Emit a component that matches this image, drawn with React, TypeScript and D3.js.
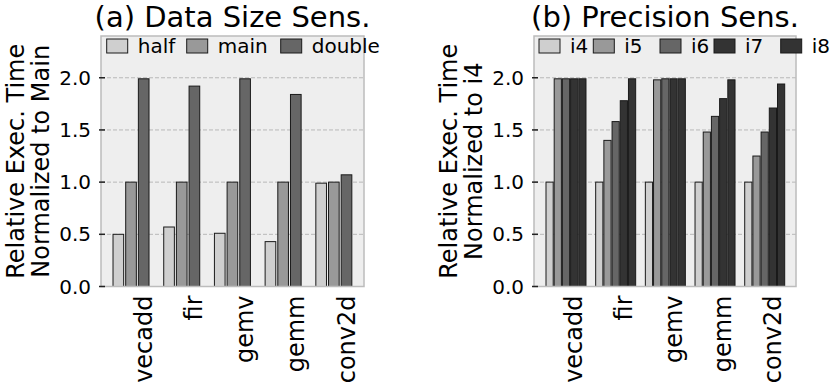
import React from 'react';
import * as d3 from 'd3';

// benchmark names shared by both panels
const categories = ['vecadd', 'fir', 'gemv', 'gemm', 'conv2d'];

// (a) data size sensitivity, normalized to main
const sizeSeries = ['half', 'main', 'double'];
const halfVals = [0.50, 0.57, 0.51, 0.43, 0.99];
const mainVals = [1.0, 1.0, 1.0, 1.0, 1.0];
const doubleVals = [1.99, 1.92, 1.99, 1.84, 1.07];

// (b) precision sensitivity, normalized to i4
const precSeries = ['i4', 'i5', 'i6', 'i7', 'i8'];
const i4Vals = [1.0, 1.0, 1.0, 1.0, 1.0];
const i5Vals = [1.99, 1.40, 1.98, 1.48, 1.25];
const i6Vals = [1.99, 1.58, 1.99, 1.63, 1.48];
const i7Vals = [1.99, 1.78, 1.99, 1.80, 1.71];
const i8Vals = [1.99, 1.99, 1.99, 1.98, 1.94];

const yTicks = [0.0, 0.5, 1.0, 1.5, 2.0];

const FONT = 'DejaVu Sans, sans-serif';

type PanelProps = {
  title: string;
  ylabel2: string;
  series: string[];
  values: number[][];
  colors: string[];
  x0: number;
  x1: number;
  xDomain: [number, number];
  barStep: number;
  barWidth: number;
  legendOffsets: number[];
};

const Panel = ({ title, ylabel2, series, values, colors, x0, x1, xDomain, barStep, barWidth, legendOffsets }: PanelProps) => {
  const top = 36;
  const bottom = 286.5;

  const x = d3.scaleLinear().domain(xDomain).range([x0, x1]);
  const y = d3.scaleLinear().domain([0, 2.4]).range([bottom, top]);
  const unit = x(1) - x(0);
  const midY = (top + bottom) / 2;

  return (
    <g>
      {/* title */}
      <text x={(x0 + x1) / 2} y={26.7} textAnchor="middle" fontSize={29} fontFamily={FONT} fill="#000">
        {title}
      </text>

      {/* axes background */}
      <rect x={x0} y={top} width={x1 - x0} height={bottom - top} fill="#eeeeee" />

      {/* grid lines */}
      {yTicks.filter(t => t > 0).map(t => (
        <line key={t} x1={x0} x2={x1} y1={y(t)} y2={y(t)} stroke="#b8b8b8" strokeWidth={1} strokeDasharray="4,2" />
      ))}

      {/* bars */}
      {values.map((vals, si) =>
        vals.map((v, ci) => {
          const cx = x(ci + si * barStep);
          const w = barWidth * unit;
          return (
            <rect
              key={`${si}-${ci}`}
              x={cx - w / 2}
              y={y(v)}
              width={w}
              height={y(0) - y(v)}
              fill={colors[si]}
              stroke="#1a1a1a"
              strokeWidth={1}
            />
          );
        })
      )}

      {/* spines */}
      <rect x={x0} y={top} width={x1 - x0} height={bottom - top} fill="none" stroke="#bcbcbc" strokeWidth={1.5} />

      {/* y ticks */}
      {yTicks.map(t => (
        <g key={t}>
          <line x1={x0 - 2} x2={x0 + 4} y1={y(t)} y2={y(t)} stroke="#222" strokeWidth={1.5} />
          <text x={x0 - 10} y={y(t)} textAnchor="end" dominantBaseline="central" fontSize={20} fontFamily={FONT} fill="#000">
            {t.toFixed(1)}
          </text>
        </g>
      ))}

      {/* x tick labels, rotated */}
      {categories.map((c, i) => (
        <text
          key={c}
          transform={`translate(${x(i + 0.5)},${bottom + 9}) rotate(-90)`}
          textAnchor="end"
          dominantBaseline="central"
          fontSize={24}
          fontFamily={FONT}
          fill="#000"
        >
          {c}
        </text>
      ))}

      {/* y label, two lines */}
      <text transform={`translate(${x0 - 77},${midY}) rotate(-90)`} textAnchor="middle" fontSize={24} fontFamily={FONT} fill="#000">
        Relative Exec. Time
      </text>
      <text transform={`translate(${x0 - 52},${midY}) rotate(-90)`} textAnchor="middle" fontSize={24} fontFamily={FONT} fill="#000">
        {ylabel2}
      </text>

      {/* legend */}
      {series.map((s, i) => (
        <g key={s} transform={`translate(${x0 + legendOffsets[i]},39)`}>
          <rect x={0} y={0} width={21} height={14} fill={colors[i]} stroke="#1a1a1a" strokeWidth={1} />
          <text x={31} y={14.3} fontSize={20} fontFamily={FONT} fill="#000">{s}</text>
        </g>
      ))}
    </g>
  );
};

export default function App() {
  return (
    <svg width={830} height={384} style={{ position: 'absolute', left: 0, top: 0, background: '#fff' }}>
      <Panel
        title="(a) Data Size Sens."
        ylabel2="Normalized to Main"
        series={sizeSeries}
        values={[halfVals, mainVals, doubleVals]}
        colors={['#cfcfcf', '#999999', '#666666']}
        x0={101}
        x1={364}
        xDomain={[-0.342, 4.845]}
        barStep={0.25}
        barWidth={0.21}
        legendOffsets={[5.7, 85.7, 179.7]}
      />
      <Panel
        title="(b) Precision Sens."
        ylabel2="Normalized to i4"
        series={precSeries}
        values={[i4Vals, i5Vals, i6Vals, i7Vals, i8Vals]}
        colors={['#cfcfcf', '#999999', '#666666', '#333333', '#333333']}
        x0={534}
        x1={796}
        xDomain={[-0.314, 4.96]}
        barStep={0.165}
        barWidth={0.145}
        legendOffsets={[5, 59.3, 126, 180, 246.7]}
      />
    </svg>
  );
}
